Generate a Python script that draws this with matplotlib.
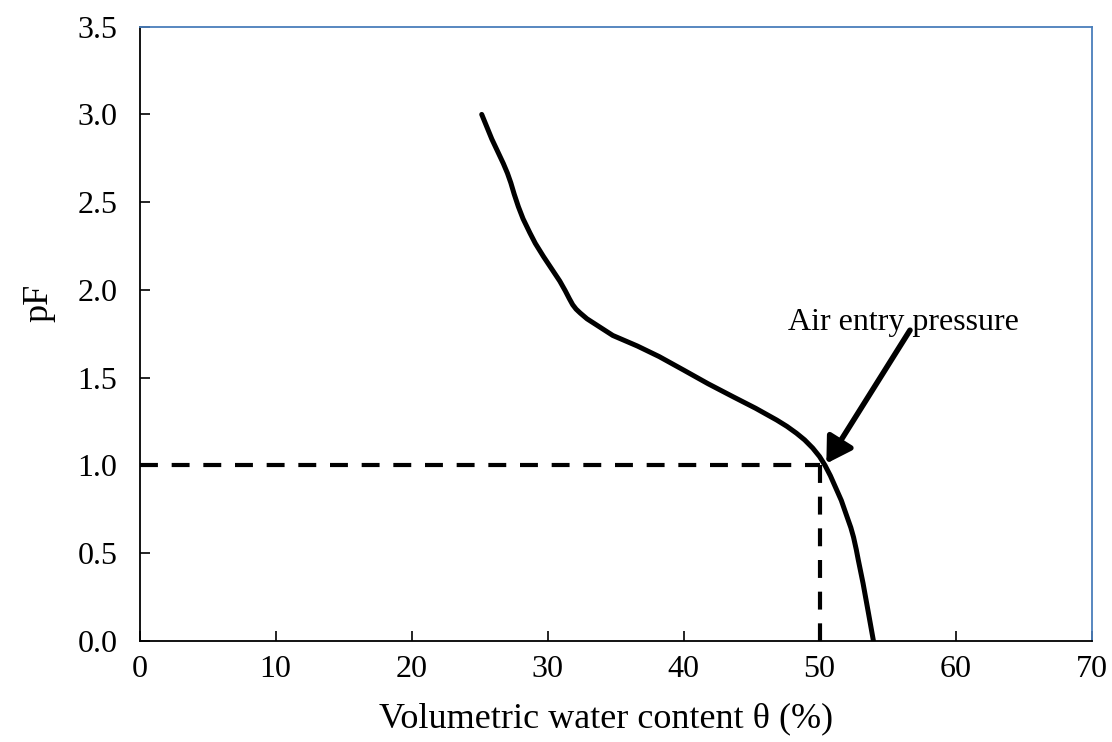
import matplotlib
matplotlib.use("Agg")
import matplotlib.pyplot as plt

# soil water retention curve (pF vs volumetric water content)
theta = [25.16, 25.9, 26.75, 27.05, 27.3, 27.55, 27.85, 28.2, 28.7, 29.1,
         29.7, 30.3, 30.9, 31.3, 31.6, 31.85, 32.1, 32.4, 32.9, 33.4,
         34.1, 34.8, 35.7, 36.6, 38.2, 40.0, 41.8, 43.66, 45.3, 46.85,
         47.6, 48.3, 48.9, 49.5, 50.0, 50.4, 50.8, 51.2, 51.6, 52.05,
         52.3, 52.5, 52.7, 52.85, 53.2, 53.6, 53.96]
pf = [3.0, 2.86, 2.72, 2.665, 2.61, 2.545, 2.475, 2.405, 2.325, 2.265,
      2.19, 2.12, 2.05, 1.995, 1.95, 1.915, 1.89, 1.868, 1.835, 1.81,
      1.775, 1.74, 1.71, 1.68, 1.62, 1.543, 1.465, 1.39, 1.325, 1.258,
      1.222, 1.183, 1.145, 1.098, 1.05, 1.0, 0.94, 0.87, 0.80, 0.70,
      0.645, 0.59, 0.52, 0.46, 0.327, 0.156, 0.0]

# air entry point and annotation
aep_theta = 50.0
aep_pf = 1.0
arrow_tip = (50.5, 1.01)
arrow_tail = (56.65, 1.77)
note_pos = (56.2, 1.771)
note_text = "Air entry pressure"

x_ticks = [0, 10, 20, 30, 40, 50, 60, 70]
y_ticks = [0.0, 0.5, 1.0, 1.5, 2.0, 2.5, 3.0, 3.5]

plt.rcParams["font.family"] = ["Liberation Serif", "DejaVu Serif"]

fig = plt.figure(figsize=(11.12, 7.42), dpi=100)
ax = fig.add_axes([0.1255, 0.1365, 0.8561, 0.8275])

ax.plot(theta, pf, color="black", lw=3.6, solid_capstyle="round",
        solid_joinstyle="round", zorder=3)

ax.plot([0, aep_theta], [aep_pf, aep_pf], color="black", lw=3,
        dashes=(4.3, 3.3), zorder=2)
ax.plot([aep_theta, aep_theta], [aep_pf, 0], color="black", lw=3,
        dashes=(4.3, 3.3), zorder=2)

ax.annotate("", xy=arrow_tip, xytext=arrow_tail,
            arrowprops=dict(arrowstyle="-|>,head_length=0.75,head_width=0.45",
                            color="black", lw=4, mutation_scale=20,
                            shrinkA=0, shrinkB=0))
ax.text(note_pos[0], note_pos[1], note_text, ha="center", va="baseline",
        fontsize=23)

ax.set_xlim(0, 70)
ax.set_ylim(0, 3.5)
ax.set_xticks(x_ticks)
ax.set_yticks(y_ticks)
ax.set_xticklabels([str(v) for v in x_ticks])
ax.set_yticklabels([f"{v:.1f}" for v in y_ticks])
ax.tick_params(direction="in", length=7.2, width=1.2, labelsize=23)
ax.tick_params(axis="y", pad=16)
ax.tick_params(axis="x", pad=10)

for side in ("left", "bottom"):
    ax.spines[side].set_color("black")
    ax.spines[side].set_linewidth(1.3)
for side in ("top", "right"):
    ax.spines[side].set_color("#4A7EBB")
    ax.spines[side].set_linewidth(1.3)

ax.set_xlabel("Volumetric water content θ (%)", fontsize=26)
ax.set_ylabel("pF", fontsize=26)
ax.xaxis.set_label_coords(0.49, -0.100)
ax.yaxis.set_label_coords(-0.088, 0.55)

fig.savefig("out.png", dpi=100)
